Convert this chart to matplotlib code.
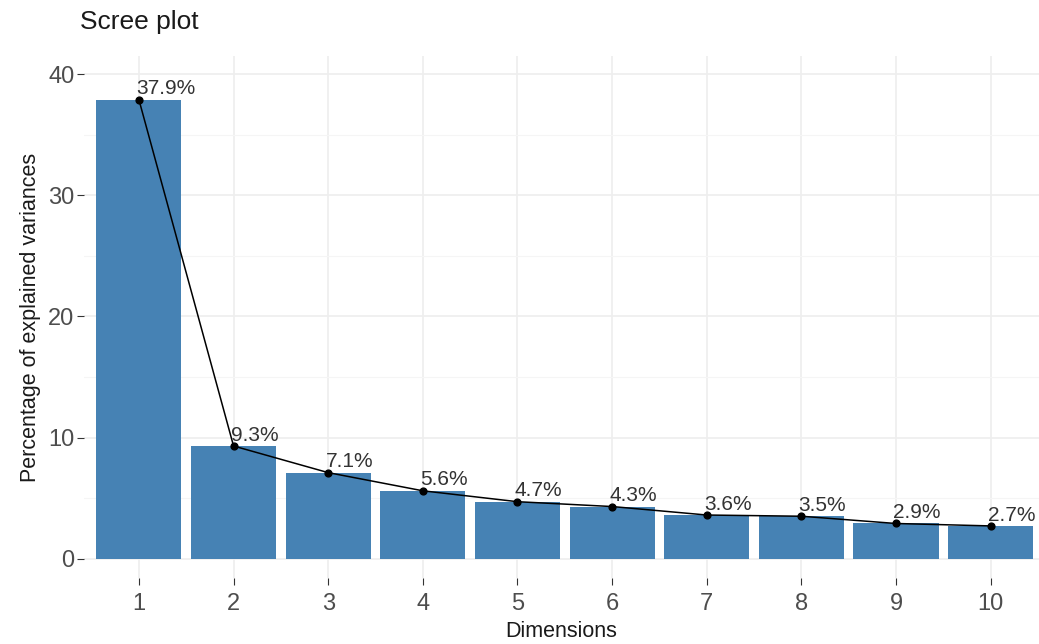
import matplotlib
matplotlib.use("Agg")
import matplotlib.pyplot as plt
from matplotlib.ticker import MultipleLocator

dimensions = [1, 2, 3, 4, 5, 6, 7, 8, 9, 10]
variances = [37.9, 9.3, 7.1, 5.6, 4.7, 4.3, 3.6, 3.5, 2.9, 2.7]
labels = [f"{v}%" for v in variances]

plt.rcParams['font.family'] = ['Liberation Sans', 'DejaVu Sans']

fig = plt.figure(figsize=(10.39, 6.44), dpi=100)
ax = fig.add_axes([84/1039, (644-578)/644, (1039-84)/1039, (578-56)/644])

ax.bar(dimensions, variances, width=0.9, color='#4682B4', zorder=2)
ax.plot(dimensions, variances, color='black', lw=1.1, zorder=3)
ax.scatter(dimensions, variances, color='black', s=24, zorder=4)
for x, v, t in zip(dimensions, variances, labels):
    ax.annotate(t, (x, v), xytext=(-2, 1), textcoords='offset points',
                ha='left', va='bottom', fontsize=15, color='#333333', zorder=5)

ax.set_xlim(0.42, 10.51)
ax.set_ylim(-1.6, 41.5)
ax.set_xticks(dimensions)
ax.set_xticklabels([str(d) for d in dimensions])
ax.set_yticks([0, 10, 20, 30, 40])
ax.yaxis.set_minor_locator(MultipleLocator(5))
ax.grid(which='major', color='#EEEEEE', lw=1.2, zorder=0)
ax.grid(which='minor', axis='y', color='#F5F5F5', lw=0.8, zorder=0)
ax.set_axisbelow(True)
for s in ax.spines.values():
    s.set_visible(False)
ax.tick_params(axis='both', which='major', length=5, color='#333333', labelsize=17, labelcolor='#4D4D4D')
ax.tick_params(axis='x', which='major', pad=6)
ax.tick_params(axis='y', which='major', pad=2)
ax.tick_params(axis='both', which='minor', length=0)

ax.set_xlabel('Dimensions', fontsize=15.5, color='#1A1A1A', labelpad=4)
ax.set_ylabel('Percentage of explained variances', fontsize=15.5, color='#1A1A1A', labelpad=5)
fig.text(80/1039, 1 - 22/644, 'Scree plot', fontsize=19, color='#1A1A1A', ha='left', va='center')

fig.savefig('out.png', dpi=100)
